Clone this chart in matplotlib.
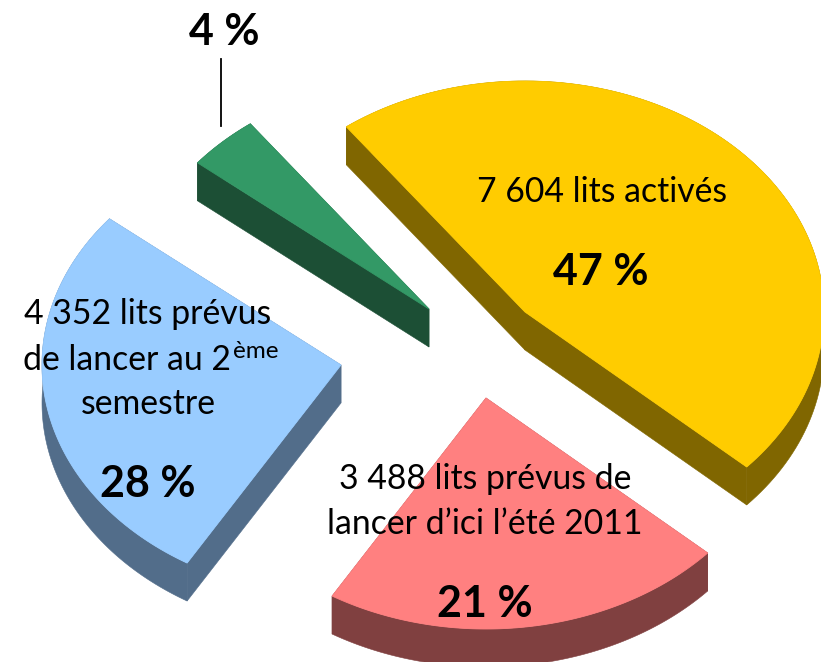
# -*- coding: utf-8 -*-
import numpy as np
import matplotlib
matplotlib.use('Agg')
import matplotlib.pyplot as plt
from matplotlib.patches import Polygon

# parts, en %
names = ['actives', 'ete2011', 'semestre2', 'autres']
parts = [46.9, 21.9, 27.3, 3.9]
top_colors = ['#FFCC00', '#FF8080', '#99CCFF', '#339966']
side_colors = ['#806600', '#804040', '#526D8A', '#1C4F35']
# sommet de chaque part, en pixels
apex_x = [525, 486, 341, 429]
apex_y = [312, 398, 365, 309]

start_angle = -36.7
rx = 299
ry = 231
depth = 38


def draw_slice(ax, cx, cy, a0, a1, top, side):
    t = np.radians(np.linspace(a0, a1, 120))
    xs = cx + rx * np.sin(t)
    ys = cy - ry * np.cos(t)
    # bord courbe, en un seul morceau
    band = np.c_[np.r_[xs, xs[::-1]], np.r_[ys, ys[::-1] + depth]]
    ax.add_patch(Polygon(band, closed=True, fc=side, ec=side, lw=0.4))
    # les deux coupes
    for k in [0, -1]:
        quad = [(cx, cy), (xs[k], ys[k]), (xs[k], ys[k] + depth), (cx, cy + depth)]
        ax.add_patch(Polygon(quad, closed=True, fc=side, ec=side, lw=0.4))
    ax.add_patch(Polygon(np.c_[np.r_[cx, xs], np.r_[cy, ys]], closed=True, fc=top, ec=top, lw=0.6))


fig = plt.figure(figsize=(8.21, 6.62), dpi=100)
ax = fig.add_axes([0, 0, 1, 1])
ax.set_xlim(0, 821)
ax.set_ylim(662, 0)
ax.axis('off')

plt.rcParams['font.family'] = ['Lato', 'DejaVu Sans']

sweep = 360.0 * np.array(parts) / sum(parts)
a0 = start_angle
for i in range(len(parts)):
    draw_slice(ax, apex_x[i], apex_y[i], a0, a0 + sweep[i], top_colors[i], side_colors[i])
    a0 += sweep[i]

# trait du 4 %
ax.plot([221, 221], [59, 126], color='black', lw=1.3)

fs = 24.3
fb = 31
ax.text(602, 192, '7 604 lits activés', fontsize=fs, ha='center', va='center')
ax.text(601, 272, '47 %', fontsize=fb, fontweight='bold', ha='center', va='center')
ax.text(485, 479, '3 488 lits prévus de', fontsize=fs, ha='center', va='center')
ax.text(485, 524, 'lancer d’ici l’été 2011', fontsize=fs, ha='center', va='center')
ax.text(485, 604, '21 %', fontsize=fb, fontweight='bold', ha='center', va='center')
ax.text(148, 314, '4 352 lits prévus', fontsize=fs, ha='center', va='center')
ax.text(23, 360, 'de lancer au 2', fontsize=fs, ha='left', va='center')
ax.text(233, 351, 'ème', fontsize=17.5, ha='left', va='center')
ax.text(148, 404, 'semestre', fontsize=fs, ha='center', va='center')
ax.text(148, 484, '28 %', fontsize=fb, fontweight='bold', ha='center', va='center')
ax.text(224, 32, '4 %', fontsize=fb, fontweight='bold', ha='center', va='center')

fig.savefig('out.png', dpi=100)
